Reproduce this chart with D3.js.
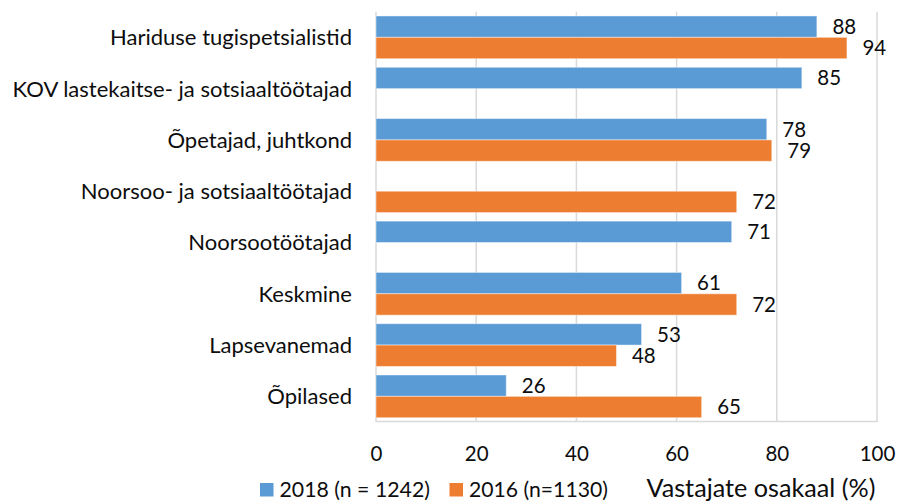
<!DOCTYPE html>
<html><head><meta charset="utf-8">
<script src="https://cdn.jsdelivr.net/npm/d3@7"></script>
<style>body{margin:0;background:#fff}svg{display:block}</style>
</head><body>
<svg id="c" width="898" height="503"></svg>
<script>
const categories = ["Hariduse tugispetsialistid","KOV lastekaitse- ja sotsiaaltöötajad","Õpetajad, juhtkond","Noorsoo- ja sotsiaaltöötajad","Noorsootöötajad","Keskmine","Lapsevanemad","Õpilased"];
const seriesNames = ["2018 (n = 1242)","2016 (n=1130)"];
const values2018 = [88,85,78,null,71,61,53,26];
const values2016 = [94,null,79,72,null,72,48,65];
const xTicks = [0,20,40,60,80,100];
const axisTitle = "Vastajate osakaal (%)";
const colors = ["#5B9BD5","#ED7D31"];

const font = "Lato, 'Open Sans', sans-serif";
const ink = "#0d0d0d";
const svg = d3.select("#c");
const plotTop = 11.7, plotBottom = 422;
const x = d3.scaleLinear().domain([0,100]).range([376,877]);
const y = d3.scaleBand().domain(categories).range([plotTop,plotBottom]);
const ys = d3.scaleBand().domain([0,1]).range([0,y.bandwidth()]).paddingOuter(0.2);

// fit a text element's font size so its width matches a target
function fit(sel, target){
  const base = 20;
  sel.attr("font-size", base);
  const w = sel.node().getComputedTextLength();
  const s = base*target/w;
  sel.attr("font-size", s);
  return s;
}

// gridlines
svg.append("g").selectAll("line").data(xTicks).join("line")
  .attr("x1",d=>x(d)).attr("x2",d=>x(d)).attr("y1",plotTop).attr("y2",plotBottom)
  .attr("stroke","#D9D9D9").attr("stroke-width",1.5);
svg.append("line").attr("x1",x(0)).attr("x2",x(100)).attr("y1",plotBottom-0.5).attr("y2",plotBottom-0.5)
  .attr("stroke","#D9D9D9").attr("stroke-width",1.5);

const data = [];
categories.forEach((c,i)=>{
  [values2018[i],values2016[i]].forEach((v,s)=>{ if(v!=null) data.push({c,s,v}); });
});

svg.append("g").selectAll("rect").data(data).join("rect")
  .attr("x",x(0)).attr("y",d=>y(d.c)+ys(d.s))
  .attr("width",d=>x(d.v)-x(0)).attr("height",ys.bandwidth())
  .attr("fill",d=>colors[d.s]).attr("stroke","#fff").attr("stroke-opacity",0.45).attr("stroke-width",1);

// category labels, sized so the widest matches reference
const catT = svg.append("g").selectAll("text").data(categories).join("text")
  .attr("x",352).attr("y",d=>y(d)+y.bandwidth()/2).attr("dy","0.36em")
  .attr("text-anchor","end").attr("font-family",font).attr("fill",ink)
  .text(d=>d);
const catSize = fit(catT.filter((d,i)=>i===1), 339.7);
catT.attr("font-size", catSize);

const numSize = 20.5;
svg.append("g").selectAll("text").data(data).join("text")
  .attr("x",d=>x(d.v)+15.5).attr("y",d=>y(d.c)+ys(d.s)+ys.bandwidth()/2)
  .attr("dy","0.36em").attr("font-family",font).attr("font-size",numSize).attr("fill",ink)
  .text(d=>d.v);

// x axis ticks
const ax = svg.append("g").attr("transform",`translate(0,${plotBottom})`)
  .call(d3.axisBottom(x).tickValues(xTicks).tickSize(0).tickPadding(24));
ax.select(".domain").remove();
ax.selectAll("text").attr("font-family",font).attr("font-size",numSize).attr("fill",ink);

// legend
const leg = [{x:260,tx:279.5,w:150.5},{x:449.5,tx:469,w:139}];
seriesNames.forEach((n,i)=>{
  svg.append("rect").attr("x",leg[i].x).attr("y",483).attr("width",13.5).attr("height",13.5).attr("fill",colors[i]);
  const t = svg.append("text").attr("x",leg[i].tx).attr("y",496.5).attr("font-family",font).attr("fill",ink).text(n);
  fit(t, leg[i].w);
});
const tt = svg.append("text").attr("x",646.5).attr("y",497).attr("font-family",font).attr("fill",ink).text(axisTitle);
fit(tt, 229);
</script>
</body></html>
